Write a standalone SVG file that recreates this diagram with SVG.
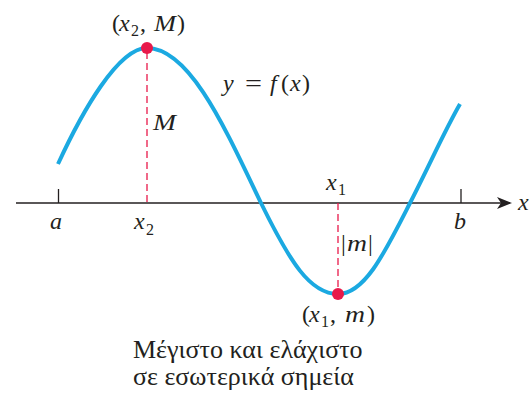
<svg xmlns="http://www.w3.org/2000/svg" width="531" height="397" viewBox="0 0 531 397">
<style>
.m{font-family:"Liberation Serif",serif;font-style:italic;font-size:24px;fill:#231f20}
.r{font-style:normal}
.s{font-size:16px;font-style:normal}
.cap{font-family:"Liberation Serif",serif;font-size:26px;fill:#231f20}
.ax{stroke:#231f20;stroke-width:1.3;fill:none}
.dash{stroke:#e8194a;stroke-width:1.3;stroke-dasharray:7,4;fill:none}
.curve{stroke:#1ba9e1;stroke-width:4;fill:none}
.dot{fill:#e8194a}
</style>
<rect width="531" height="397" fill="#ffffff"/>
<g id="axis">
<line class="ax" x1="16" y1="203" x2="510" y2="203"/>
<path d="M497,197 L512,203 L497,209 L501,203 Z" fill="#231f20"/>
<line class="ax" x1="58.5" y1="189" x2="58.5" y2="203"/>
<line class="ax" x1="461" y1="189" x2="461" y2="203"/>
<text class="m" x="518" y="210">x</text>
<text class="m" x="50" y="229">a</text>
<text class="m" x="454" y="229">b</text>
<text class="m" x="134" y="229">x<tspan class="s" x="146" y="235">2</tspan></text>
<text class="m" x="326" y="190">x<tspan class="s" x="338" y="195">1</tspan></text>
</g>
<g id="connectors">
<line class="dash" x1="147" y1="52" x2="147" y2="203"/>
<line class="dash" x1="338" y1="203" x2="338" y2="290"/>
</g>
<g id="curve">
<path class="curve" d="M58,164 C82,112 118,48 147,48 C190,48 226,130 261,203 C290,262 310,294 338,294 C365,294 385,252 410,203 C430,164 445,130 460,104"/>
<text class="m" x="223" y="91">y<tspan class="r" x="245" textLength="17" lengthAdjust="spacingAndGlyphs">=</tspan><tspan x="270">f</tspan><tspan class="r" x="281">(</tspan><tspan x="290">x</tspan><tspan class="r" x="302">)</tspan></text>
</g>
<g id="max">
<circle class="dot" cx="147" cy="48" r="6"/>
<text class="m" y="31"><tspan class="r" x="112">(</tspan><tspan x="119">x</tspan><tspan class="s" x="131" y="36">2</tspan><tspan class="r" x="140" y="31">,</tspan><tspan x="154" textLength="22" lengthAdjust="spacingAndGlyphs">M</tspan><tspan class="r" x="177">)</tspan></text>
<text class="m" x="153" y="130" textLength="23" lengthAdjust="spacingAndGlyphs">M</text>
</g>
<g id="min">
<circle class="dot" cx="338" cy="294" r="6"/>
<text class="m" y="322"><tspan class="r" x="302">(</tspan><tspan x="309">x</tspan><tspan class="s" x="321" y="327">1</tspan><tspan class="r" x="330" y="322">,</tspan><tspan x="345" textLength="20" lengthAdjust="spacingAndGlyphs">m</tspan><tspan class="r" x="367">)</tspan></text>
<text class="m" y="251"><tspan class="r" x="341">|</tspan><tspan x="347" textLength="20" lengthAdjust="spacingAndGlyphs">m</tspan><tspan class="r" x="368">|</tspan></text>
</g>
<g id="caption">
<text class="cap" x="133" y="358">Μέγιστο και ελάχιστο</text>
<text class="cap" x="133" y="385">σε εσωτερικά σημεία</text>
</g>
</svg>
